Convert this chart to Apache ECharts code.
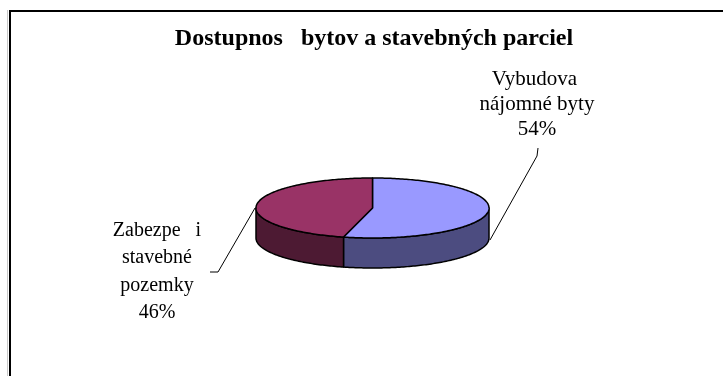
<!DOCTYPE html>
<html>
<head>
<meta charset="utf-8">
<script src="https://cdn.jsdelivr.net/npm/echarts@6/dist/echarts.min.js"></script>
<style>
  html, body { margin: 0; padding: 0; background: #fff; }
  #chart { width: 723px; height: 376px; }
</style>
</head>
<body>
<div id="chart"></div>
<script>
// Data
const titleText = 'Dostupnos   bytov a stavebných parciel';
const categories = ['Vybudova \nnájomné byty', 'Zabezpe   i\nstavebné\npozemky'];
const shares = [54, 46];

// Styling
const topColors = ['#9999FF', '#993366'];
const sideColors = ['#4C4C80', '#4D1A33'];
const serif = '"Liberation Serif", "Times New Roman", serif';

// Layout of the tilted pie and its callouts
const pie = { cx: 372.5, cy: 208, rx: 116.5, ry: 30, depth: 30 };
const labelPos = [
  { x: 537, y: 104, lineHeight: 25, size: 21 },
  { x: 157, y: 271.5, lineHeight: 27.5, size: 20 }
];
const leaderPts = [
  [[538, 148], [537, 156], [490, 240]],
  [[255, 208], [218, 272], [210, 272]]
];

const total = shares.reduce((a, b) => a + b, 0);

function pt(theta, dy) {
  return [pie.cx + pie.rx * Math.sin(theta), pie.cy - pie.ry * Math.cos(theta) + dy];
}
function arc(a, b, dy) {
  const pts = [];
  const n = Math.max(2, Math.ceil(Math.abs(b - a) / (Math.PI / 180)));
  for (let k = 0; k <= n; k++) pts.push(pt(a + (b - a) * k / n, dy));
  return pts;
}

function renderItem(params, api) {
  const i = params.dataIndex;
  const before = shares.slice(0, i).reduce((a, b) => a + b, 0);
  const a = before / total * Math.PI * 2;
  const b = (before + api.value(0)) / total * Math.PI * 2;
  const children = [];

  // visible front wall (lower half of the ellipse)
  const s = Math.max(a, Math.PI / 2);
  const e = Math.min(b, Math.PI * 3 / 2);
  if (e > s) {
    const top = arc(s, e, 0);
    const bottom = arc(e, s, pie.depth);
    children.push({
      type: 'polygon', z2: 1,
      shape: { points: top.concat(bottom) },
      style: { fill: sideColors[i], stroke: '#000', lineWidth: 1.5, lineJoin: 'round' }
    });
  }
  // top face
  children.push({
    type: 'polygon', z2: 5,
    shape: { points: [[pie.cx, pie.cy]].concat(arc(a, b, 0)) },
    style: { fill: topColors[i], stroke: '#000', lineWidth: 1.5, lineJoin: 'round' }
  });
  // leader line
  children.push({
    type: 'polyline', z2: 6,
    shape: { points: leaderPts[i] },
    style: { fill: null, stroke: '#000', lineWidth: 1 }
  });
  // label: category name and percentage share
  const pct = Math.round(api.value(0) / total * 100) + '%';
  const lp = labelPos[i];
  children.push({
    type: 'text', z2: 7,
    style: {
      text: categories[i] + '\n' + pct,
      x: lp.x, y: lp.y,
      align: 'center', verticalAlign: 'middle',
      lineHeight: lp.lineHeight,
      fontFamily: serif, fontSize: lp.size, fill: '#000'
    }
  });
  return { type: 'group', children };
}

const chart = echarts.init(document.getElementById('chart'), null, { renderer: 'canvas' });
chart.setOption({
  backgroundColor: '#fff',
  animation: false,
  title: {
    text: titleText,
    left: 369,
    textAlign: 'center',
    top: 22,
    textStyle: { fontFamily: serif, fontWeight: 'bold', fontSize: 24, color: '#000' }
  },
  graphic: [
    { type: 'line', shape: { x1: 7.5, y1: 10, x2: 7.5, y2: 380 }, style: { stroke: '#c8c8c8', lineWidth: 1 } },
    { type: 'rect', shape: { x: 10, y: 11, width: 730, height: 380 }, style: { fill: null, stroke: '#000', lineWidth: 2 } }
  ],
  series: [{
    type: 'custom',
    coordinateSystem: 'none',
    renderItem: renderItem,
    data: shares.map(v => [v])
  }]
});
</script>
</body>
</html>
